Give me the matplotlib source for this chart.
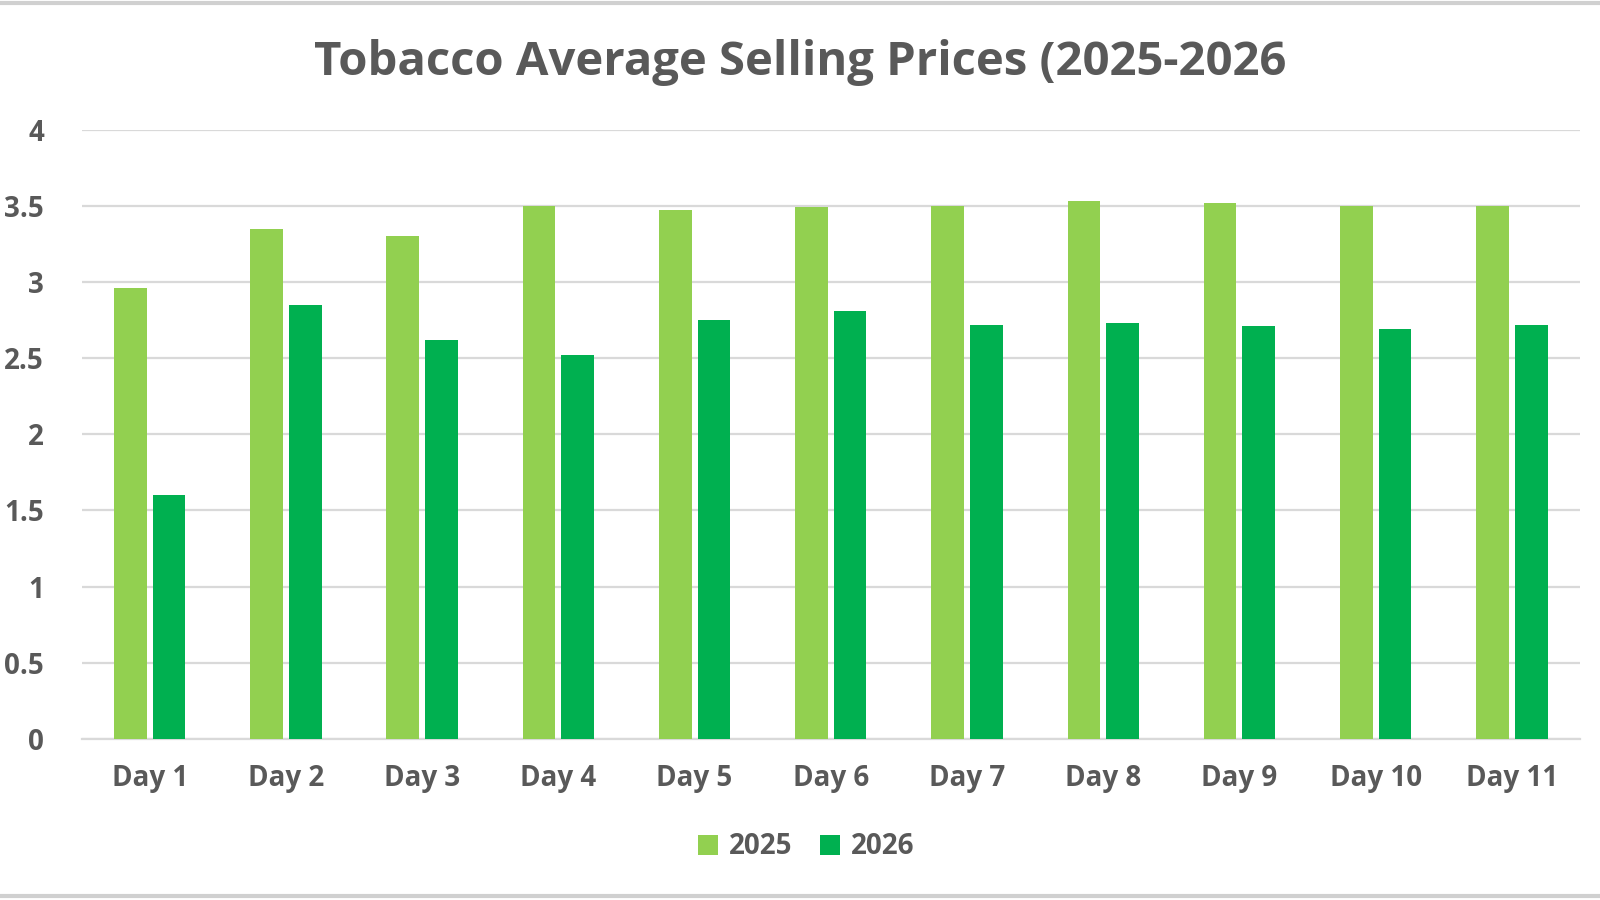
import matplotlib
matplotlib.use("Agg")
import matplotlib.pyplot as plt
import numpy as np
from matplotlib.patches import Patch
from matplotlib.lines import Line2D

categories = ["Day 1", "Day 2", "Day 3", "Day 4", "Day 5", "Day 6",
              "Day 7", "Day 8", "Day 9", "Day 10", "Day 11"]
prices_2025 = [2.96, 3.35, 3.30, 3.50, 3.47, 3.49, 3.50, 3.53, 3.52, 3.50, 3.50]
prices_2026 = [1.60, 2.85, 2.62, 2.52, 2.75, 2.81, 2.72, 2.73, 2.71, 2.69, 2.72]
series_names = ["2025", "2026"]
y_ticks = [0, 0.5, 1, 1.5, 2, 2.5, 3, 3.5, 4]
y_tick_labels = ["0", "0.5", "1", "1.5", "2", "2.5", "3", "3.5", "4"]
title = "Tobacco Average Selling Prices (2025-2026"

C2025 = "#92D050"
C2026 = "#00B050"
TXT = "#595959"
GRID = "#D9D9D9"
FONT = "Open Sans"

plt.rcParams['font.family'] = [FONT, 'DejaVu Sans']

fig = plt.figure(figsize=(16, 9), dpi=100)
fig.patch.set_facecolor("white")
ax = fig.add_axes([0.051, 0.179, 0.9365, 0.677])

x = np.arange(len(categories))
w = 0.24
off = 0.142
ax.bar(x - off, prices_2025, width=w, color=C2025, zorder=3)
ax.bar(x + off, prices_2026, width=w, color=C2026, zorder=3)

ax.set_xlim(-0.5, len(categories) - 0.5)
ax.set_ylim(0, 4)
ax.set_yticks(y_ticks)
ax.set_yticklabels(y_tick_labels)
ax.set_xticks(x)
ax.set_xticklabels(categories)
ax.yaxis.grid(True, color=GRID, linewidth=1.6, zorder=0)
ax.set_axisbelow(True)
for s in ["top", "right", "left"]:
    ax.spines[s].set_visible(False)
ax.spines["bottom"].set_color(GRID)
ax.spines["bottom"].set_linewidth(1.6)
ax.tick_params(axis="both", length=0, colors=TXT, labelsize=20)
ax.tick_params(axis="y", pad=27)
ax.tick_params(axis="x", pad=18)
for lab in ax.get_xticklabels() + ax.get_yticklabels():
    lab.set_fontweight("bold")
    lab.set_color(TXT)

fig.text(0.5, 1 - 62 / 900, title, ha="center", va="center",
         fontsize=34, fontweight="bold", color=TXT)

handles = [Patch(facecolor=C2025, edgecolor="none"),
           Patch(facecolor=C2026, edgecolor="none")]
leg = fig.legend(handles, series_names, loc="center", bbox_to_anchor=(0.504, 1 - 847 / 900),
                 ncol=2, frameon=False, handlelength=0.7, handleheight=0.7,
                 handletextpad=0.4, columnspacing=1.0,
                 prop={"family": FONT, "weight": "bold", "size": 20})
for t in leg.get_texts():
    t.set_color(TXT)

# thin border lines at top and bottom of the chart image
fig.add_artist(Line2D([0, 1], [0.997, 0.997], transform=fig.transFigure, color="#D0D0D0", linewidth=3))
fig.add_artist(Line2D([0, 1], [0.004, 0.004], transform=fig.transFigure, color="#D0D0D0", linewidth=3))

fig.savefig("out.png", dpi=100, facecolor="white")
